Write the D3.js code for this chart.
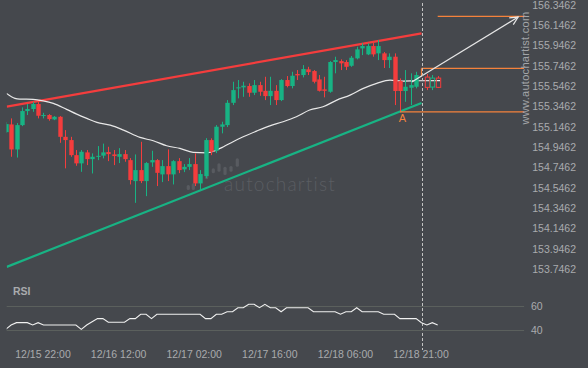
<!DOCTYPE html>
<html><head><meta charset="utf-8">
<script src="https://cdn.jsdelivr.net/npm/d3@7"></script>
<style>html,body{margin:0;padding:0;background:#45484d;overflow:hidden}</style>
</head><body>
<svg id="c" width="588" height="368"></svg>
<script>
// ---- data (hourly candles, index 1 = first visible candle) ----
const firstIdx = 1;
const openP  = [155.094,155.170,154.924,155.163,155.301,155.321,155.370,155.252,155.262,155.219,155.245,155.048,155.016,154.868,154.787,154.895,154.829,154.852,154.863,154.898,154.875,154.852,154.878,154.819,154.613,154.721,154.613,154.797,154.819,154.679,154.760,154.679,154.809,154.728,154.753,154.780,154.590,154.662,155.016,154.911,155.147,155.163,155.382,155.524,155.534,155.547,155.481,155.556,155.500,155.448,155.500,155.409,155.606,155.547,155.665,155.655,155.711,155.694,155.612,155.514,155.491,155.783,155.792,155.783,155.746,155.819,155.917,155.858,155.940,155.868,155.868,155.802,155.835,155.596,155.498,155.530,155.540];
const closeP = [155.173,154.924,155.163,155.301,155.321,155.370,155.255,155.262,155.222,155.245,155.048,155.016,154.868,154.787,154.901,154.829,154.852,154.861,154.895,154.878,154.859,154.878,154.829,154.623,154.721,154.613,154.790,154.819,154.694,154.760,154.679,154.809,154.721,154.753,154.780,154.590,154.682,155.016,154.901,155.147,155.170,155.382,155.507,155.534,155.550,155.481,155.556,155.491,155.448,155.500,155.409,155.606,155.547,155.648,155.652,155.714,155.684,155.589,155.500,155.500,155.783,155.802,155.770,155.736,155.825,155.907,155.940,155.940,155.858,155.940,155.802,155.835,155.498,155.498,155.540,155.556,155.655];
const highP  = [155.193,155.229,155.183,155.337,155.370,155.392,155.392,155.284,155.271,155.252,155.252,155.114,155.048,154.918,154.918,154.918,154.885,154.957,154.981,154.950,154.918,154.937,154.918,154.839,154.875,154.999,154.800,154.911,154.829,154.819,154.924,154.819,154.839,154.780,154.839,154.885,154.721,155.035,155.033,155.163,155.196,155.409,155.589,155.606,155.589,155.573,155.606,155.589,155.638,155.638,155.556,155.615,155.645,155.687,155.704,155.753,155.736,155.704,155.655,155.638,155.792,155.835,155.809,155.802,155.842,155.933,155.966,155.966,155.972,155.999,155.881,155.868,155.868,155.622,155.704,155.672,155.687];
const lowP   = [155.085,154.852,154.844,155.153,155.262,155.294,155.229,155.229,155.206,155.212,154.989,154.738,154.852,154.763,154.704,154.770,154.688,154.819,154.836,154.809,154.770,154.790,154.803,154.580,154.399,154.593,154.465,154.753,154.564,154.603,154.613,154.580,154.691,154.701,154.721,154.564,154.524,154.642,154.868,154.888,155.082,155.144,155.360,155.426,155.441,155.441,155.458,155.451,155.409,155.360,155.360,155.399,155.534,155.524,155.606,155.632,155.655,155.573,155.493,155.436,155.481,155.672,155.704,155.704,155.736,155.809,155.851,155.851,155.835,155.802,155.724,155.724,155.360,155.294,155.392,155.360,155.524];

// projected (hollow) candles
const fcIdx   = [79, 80, 81];
const fcOpen  = [155.635, 155.537, 155.625];
const fcClose = [155.534, 155.625, 155.534];
const fcHigh  = [155.665, 155.655, 155.645];
const fcLow   = [155.507, 155.507, 155.527];

// moving average (index, price)
const maIdx = [1.15,2.72,3.61,6.07,7.94,9.82,12.28,14.15,16.02,17.89,20.36,22.82,25.87,28.33,30.80,33.26,35.72,38.19,40.06,41.34,43.11,44.98,47.44,49.91,52.37,54.83,57.29,59.76,62.32,64.78,67.24,69.71,72.17,74.63,77.09,81.43];
const maVal = [155.475,155.426,155.419,155.416,155.402,155.377,155.318,155.271,155.229,155.190,155.163,155.114,155.042,155.009,154.960,154.934,154.895,154.891,154.918,154.950,155.000,155.048,155.104,155.156,155.196,155.245,155.311,155.343,155.409,155.458,155.524,155.573,155.606,155.596,155.599,155.601];

// channel lines
const resIdx = [1.19, 78], resVal = [155.345, 156.065];
const supIdx = [1.19, 78], supVal = [153.770, 155.380];

// levels & forecast arrow
const targetLevel = 156.232, breakLevel = 155.721, pointA = 155.294;
const arrowIdx = [76.2, 95.9], arrowVal = [155.586, 156.225];
const levelEndIdx = 97, nowIdx = 78, pointAIdx = 74, targetStartIdx = 81;

// RSI per candle index 0..81
const rsi = [40.8,40.8,44.4,46.3,46.3,46.3,44.4,46.3,44.4,44.4,44.4,44.4,44.4,44.4,44.4,
  40.8,44.4,47.0,49.6,49.6,46.6,46.6,46.6,46.6,49.6,49.6,53.2,53.2,49.6,
  53.2,53.2,53.2,53.2,53.2,53.2,53.2,53.2,53.2,49.6,49.6,53.2,53.2,55.3,55.3,58.6,58.6,61.4,61.4,58.6,61.4,
  58.6,58.6,55.3,58.6,58.6,58.6,58.6,58.6,55.3,55.3,55.3,55.3,55.3,53.2,55.3,55.3,58.6,
  55.3,55.3,55.3,55.3,53.2,53.2,53.2,49.6,49.6,49.6,49.6,46.3,44.4,46.3,44.4];
const rsiTicks = [40, 60];

const yTicks = [156.3462,156.1462,155.9462,155.7462,155.5462,155.3462,155.1462,154.9462,154.7462,154.5462,154.3462,154.1462,153.9462,153.7462];
const timeIdx = [8, 22, 36, 50, 64, 78];
const timeLabels = ["12/15 22:00","12/16 12:00","12/17 02:00","12/17 16:00","12/18 06:00","12/18 21:00"];

// ---- drawing ----
const W = 588, H = 368;
const BG = "#45484d", RED = "#f43d3d", GREEN = "#18b384", ORANGE = "#f5823c", TXT = "#a9abad";
const FONT = "'Liberation Sans', Arial, sans-serif";
const svg = d3.select("#c");
svg.append("rect").attr("width", W).attr("height", H).attr("fill", BG);

const x = d3.scaleLinear().domain([0, 78]).range([0.3, 421.5]);
const y = d3.scaleLinear().domain([153.7462, 156.3462]).range([269.3, 4.7]);
const ry = d3.scaleLinear().domain([40, 60]).range([330.3, 306]);
const xEnd = x(levelEndIdx);

const defs = svg.append("defs");
defs.append("clipPath").attr("id", "mainClip").append("rect").attr("x", 6.7).attr("y", 0).attr("width", 530).attr("height", 285);
defs.append("clipPath").attr("id", "rsiClip").append("rect").attr("x", 6.7).attr("y", 285).attr("width", 520).attr("height", 70);

// watermark
const wm = svg.append("g");
const logoBars = [[188.3,185,190],[193.3,183.3,190],[206.7,175,179.3],[213.3,168.3,173.3],[219,163.3,171.7],[225,166.7,175],[231,166,171.7],[237.3,158.3,166.7]];
wm.selectAll("rect").data(logoBars).join("rect")
  .attr("x", d => d[0] - 1.6).attr("y", d => d[1]).attr("width", 3.2).attr("height", d => d[2] - d[1])
  .attr("rx", 1.5).attr("fill", "#585b60");
wm.append("text").attr("x", 280).attr("y", 191).attr("text-anchor", "middle")
  .attr("font-family", "Lato, 'Open Sans', sans-serif").attr("font-weight", 300).attr("font-size", 19)
  .attr("letter-spacing", 1.2).attr("fill", "#5a5d62").text("autochartist");

const main = svg.append("g").attr("clip-path", "url(#mainClip)");

// channel lines
main.append("line").attr("x1", x(resIdx[0])).attr("y1", y(resVal[0])).attr("x2", x(resIdx[1])).attr("y2", y(resVal[1]))
  .attr("stroke", RED).attr("stroke-width", 2.2);
main.append("line").attr("x1", x(supIdx[0])).attr("y1", y(supVal[0])).attr("x2", x(supIdx[1])).attr("y2", y(supVal[1]))
  .attr("stroke", GREEN).attr("stroke-width", 2.2);

// MA
main.append("path").datum(maIdx.map((d, i) => [d, maVal[i]]))
  .attr("d", d3.line().x(d => x(d[0])).y(d => y(d[1])).curve(d3.curveMonotoneX))
  .attr("fill", "none").attr("stroke", "#e8e8e8").attr("stroke-width", 1.2);

// candles
const candles = openP.map((o, k) => ({i: k + firstIdx, o, c: closeP[k], h: highP[k], l: lowP[k]}));
const bw = 4.4;
const cx = i => Math.round(x(i)) + 0.5;
const cg = main.append("g");
cg.selectAll("line").data(candles).join("line")
  .attr("x1", d => cx(d.i)).attr("x2", d => cx(d.i))
  .attr("y1", d => y(d.h)).attr("y2", d => y(d.l))
  .attr("stroke", d => d.c >= d.o ? GREEN : RED).attr("stroke-width", 1);
cg.selectAll("rect").data(candles).join("rect")
  .attr("x", d => cx(d.i) - bw / 2).attr("width", bw)
  .attr("y", d => y(Math.max(d.o, d.c))).attr("height", d => Math.max(1, Math.abs(y(d.o) - y(d.c))))
  .attr("fill", d => d.c >= d.o ? GREEN : RED);

// forecast hollow candles
const fc = fcIdx.map((idx, k) => ({i: idx, o: fcOpen[k], c: fcClose[k], h: fcHigh[k], l: fcLow[k]}));
const fg = main.append("g");
fg.selectAll("line.top").data(fc).join("line").attr("class", "top")
  .attr("x1", d => cx(d.i)).attr("x2", d => cx(d.i))
  .attr("y1", d => y(d.h)).attr("y2", d => y(Math.max(d.o, d.c)))
  .attr("stroke", d => d.c >= d.o ? GREEN : RED);
fg.selectAll("line.bot").data(fc).join("line").attr("class", "bot")
  .attr("x1", d => cx(d.i)).attr("x2", d => cx(d.i))
  .attr("y1", d => y(Math.min(d.o, d.c))).attr("y2", d => y(d.l))
  .attr("stroke", d => d.c >= d.o ? GREEN : RED);
fg.selectAll("rect").data(fc).join("rect")
  .attr("x", d => cx(d.i) - bw / 2).attr("width", bw)
  .attr("y", d => y(Math.max(d.o, d.c))).attr("height", d => Math.abs(y(d.o) - y(d.c)))
  .attr("fill", "none").attr("stroke", d => d.c >= d.o ? GREEN : RED).attr("stroke-width", 1);

// orange levels
const lv = svg.append("g").attr("stroke", ORANGE).attr("stroke-width", 1.2);
lv.append("line").attr("x1", x(targetStartIdx)).attr("x2", xEnd).attr("y1", y(targetLevel)).attr("y2", y(targetLevel));
lv.append("line").attr("x1", x(nowIdx)).attr("x2", xEnd).attr("y1", y(breakLevel)).attr("y2", y(breakLevel));
lv.append("line").attr("x1", x(nowIdx)).attr("x2", x(nowIdx)).attr("y1", y(breakLevel)).attr("y2", y(breakLevel) + 8);
lv.append("line").attr("x1", x(pointAIdx)).attr("x2", xEnd).attr("y1", y(pointA)).attr("y2", y(pointA));
svg.append("text").attr("x", x(pointAIdx) + 2.5).attr("y", y(pointA) + 10).attr("text-anchor", "middle")
  .attr("font-family", FONT).attr("font-size", 11).attr("fill", ORANGE).text("A");

// arrow
const ax1 = x(arrowIdx[0]), ay1 = y(arrowVal[0]), ax2 = x(arrowIdx[1]), ay2 = y(arrowVal[1]);
const ang = Math.atan2(ay2 - ay1, ax2 - ax1), hl = 9;
const ar = svg.append("g").attr("stroke", "#e6e6e6").attr("stroke-width", 1.2).attr("fill", "none");
ar.append("line").attr("x1", ax1).attr("y1", ay1).attr("x2", ax2).attr("y2", ay2);
ar.append("path").attr("d", `M${ax2 + hl*Math.cos(ang + Math.PI - 0.45)},${ay2 + hl*Math.sin(ang + Math.PI - 0.45)}L${ax2},${ay2}L${ax2 + hl*Math.cos(ang + Math.PI + 0.45)},${ay2 + hl*Math.sin(ang + Math.PI + 0.45)}`);

// "now" dashed line across both panels
svg.append("line").attr("x1", cx(nowIdx)).attr("x2", cx(nowIdx)).attr("y1", 3).attr("y2", 350)
  .attr("stroke", "#c4c4c4").attr("stroke-width", 1).attr("stroke-dasharray", "3,2");

// y axis
const yAxis = svg.append("g").attr("transform", "translate(576,0)")
  .call(d3.axisLeft(y).tickValues(yTicks).tickFormat(d3.format(".4f")).tickSize(0).tickPadding(0));
yAxis.select(".domain").remove();
yAxis.selectAll("text").attr("font-family", FONT).attr("font-size", 10.5).attr("fill", TXT);

// watermark url
svg.append("text").attr("transform", "translate(529,68) rotate(-90)").attr("text-anchor", "middle")
  .attr("font-family", FONT).attr("font-size", 11).attr("letter-spacing", 0.3).attr("fill", "#a3a5a8").text("www.autochartist.com");

// ---- RSI panel ----
svg.append("text").attr("x", 13).attr("y", 295).attr("font-family", FONT).attr("font-size", 10.5)
  .attr("font-weight", "bold").attr("fill", TXT).text("RSI");
svg.append("g").selectAll("line").data(rsiTicks).join("line")
  .attr("x1", 6.7).attr("x2", xEnd).attr("y1", d => Math.round(ry(d)) + 0.5).attr("y2", d => Math.round(ry(d)) + 0.5)
  .attr("stroke", "#5b605d").attr("stroke-width", 1);
const rAxis = svg.append("g").attr("transform", "translate(531,0)")
  .call(d3.axisRight(ry).tickValues(rsiTicks).tickFormat(d3.format("d")).tickSize(0).tickPadding(0));
rAxis.select(".domain").remove();
rAxis.selectAll("text").attr("font-family", FONT).attr("font-size", 10.5).attr("fill", TXT);
svg.append("g").attr("clip-path", "url(#rsiClip)").append("path").datum(rsi)
  .attr("d", d3.line().x((d, i) => x(i)).y(d => ry(d)))
  .attr("fill", "none").attr("stroke", "#f0f0f0").attr("stroke-width", 1.1);

// time axis
const tAxis = svg.append("g").attr("transform", "translate(-1,351)")
  .call(d3.axisBottom(x).tickValues(timeIdx).tickFormat((d, i) => timeLabels[i]).tickSize(0).tickPadding(0));
tAxis.select(".domain").remove();
tAxis.selectAll("text").attr("font-family", FONT).attr("font-size", 10.5).attr("fill", TXT);
</script>
</body></html>
